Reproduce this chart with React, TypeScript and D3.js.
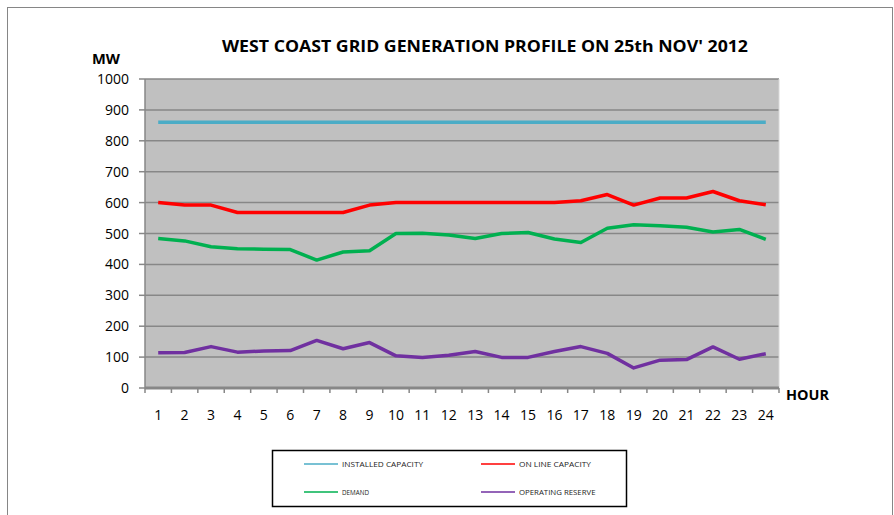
import React from "react";
import * as d3 from "d3";

// hourly values (MW)
const hours = d3.range(1, 25).map(String);
const installed = Array(24).fill(860);
const online = [600, 592, 592, 568, 568, 568, 568, 568, 592, 600, 600, 600, 600, 600, 600, 600, 606, 626, 592, 615, 615, 636, 606, 593];
const demand = [484, 476, 457, 451, 449, 448, 414, 440, 444, 500, 501, 495, 484, 500, 503, 482, 471, 517, 528, 525, 520, 505, 513, 481];
const reserve = [114, 115, 134, 116, 120, 121, 154, 127, 147, 104, 99, 106, 118, 99, 99, 118, 134, 112, 65, 90, 92, 133, 93, 111];
const yTicks = [0, 100, 200, 300, 400, 500, 600, 700, 800, 900, 1000];

const seriesList = [
  { name: "INSTALLED CAPACITY", values: installed, color: "#4BACC6" },
  { name: "ON LINE CAPACITY", values: online, color: "#FF0000" },
  { name: "DEMAND", values: demand, color: "#00B050" },
  { name: "OPERATING RESERVE", values: reserve, color: "#7030A0" },
];

const width = 894;
const height = 515;
const plot = { left: 145, top: 79, right: 779, bottom: 388 };
const font = "'Open Sans', sans-serif";

export default function App() {
  const x = d3.scaleBand().domain(hours).range([plot.left, plot.right]);
  const y = d3.scaleLinear().domain([0, 1000]).range([plot.bottom, plot.top]);
  const line = d3
    .line<number>()
    .x((_, i) => x(hours[i])! + x.bandwidth() / 2)
    .y((d) => y(d));

  const boundaries = d3.range(0, 25).map((i) => plot.left + i * x.step());

  return (
    <svg width={width} height={height} style={{ position: "absolute", left: 0, top: 0 }} fontFamily={font}>
      <rect x={0} y={0} width={width} height={height} fill="#fff" />
      <rect x={7.5} y={7.5} width={885} height={520} fill="none" stroke="#868686" />

      <text x={485} y={52} textAnchor="middle" fontSize={16} fontWeight="bold" textLength={526} lengthAdjust="spacingAndGlyphs">
        WEST COAST GRID GENERATION PROFILE ON 25th NOV' 2012
      </text>
      <text x={92} y={64} fontSize={14} fontWeight="bold" textLength={28} lengthAdjust="spacingAndGlyphs">MW</text>

      <rect x={plot.left} y={plot.top} width={plot.right - plot.left} height={plot.bottom - plot.top} fill="#C0C0C0" />
      {yTicks.map((t) => (
        <g key={t}>
          {t > 0 && <line x1={plot.left} x2={plot.right} y1={y(t)} y2={y(t)} stroke="#878787" strokeWidth={1.5} />}
          <line x1={139} x2={plot.left} y1={y(t)} y2={y(t)} stroke="#878787" strokeWidth={1.5} />
          <text x={129} y={y(t) + 5} textAnchor="end" fontSize={14} fill="#000">{t}</text>
        </g>
      ))}
      <line x1={plot.left} x2={plot.left} y1={plot.top} y2={plot.bottom} stroke="#878787" strokeWidth={1.5} />
      <line x1={plot.right} x2={plot.right} y1={plot.top} y2={plot.bottom} stroke="#D9D9D9" strokeWidth={1} />
      <line x1={plot.left} x2={plot.right} y1={plot.bottom} y2={plot.bottom} stroke="#878787" strokeWidth={3} />
      {boundaries.map((bx, i) => (
        <line key={i} x1={bx} x2={bx} y1={plot.bottom} y2={plot.bottom + 5} stroke="#878787" strokeWidth={1.5} />
      ))}
      {hours.map((h) => (
        <text key={h} x={x(h)! + x.bandwidth() / 2} y={420} textAnchor="middle" fontSize={14}>{h}</text>
      ))}
      <text x={786} y={400} fontSize={14} fontWeight="bold" textLength={43} lengthAdjust="spacingAndGlyphs">HOUR</text>

      {seriesList.map((s) => (
        <path key={s.name} d={line(s.values)!} fill="none" stroke={s.color} strokeWidth={3.5} strokeLinejoin="round" />
      ))}

      <rect x={272.5} y={450.5} width={354} height={56} fill="#fff" stroke="#000" strokeWidth={1.5} />
      {seriesList.map((s, i) => {
        const lx = i % 2 === 0 ? 304 : 481;
        const ly = i < 2 ? 464 : 492;
        return (
          <g key={s.name}>
            <line x1={lx} x2={lx + 34} y1={ly} y2={ly} stroke={s.color} strokeWidth={1.5} />
            <text x={lx + 38} y={ly + 3} fontSize={8} fill="#222" textLength={s.name.length * 4.5} lengthAdjust="spacingAndGlyphs">{s.name}</text>
          </g>
        );
      })}
    </svg>
  );
}
